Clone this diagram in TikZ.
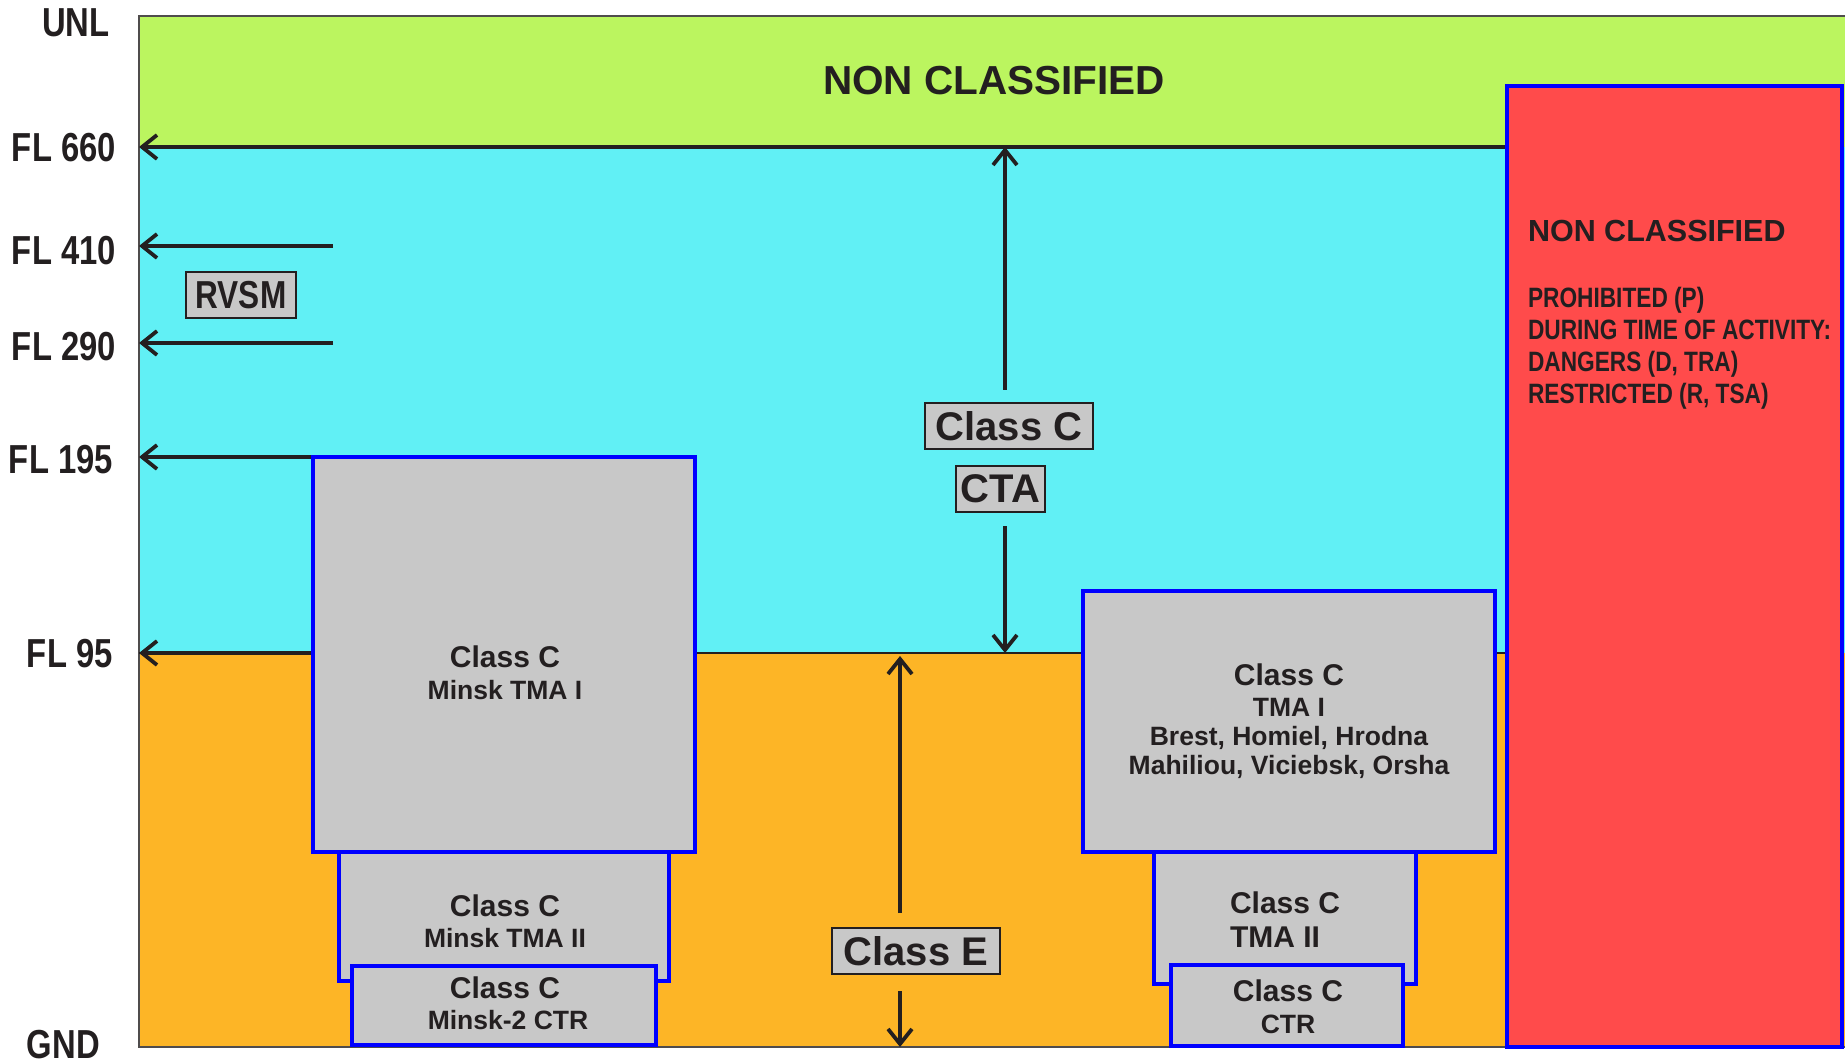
\documentclass[tikz,border=0pt]{standalone}
\usepackage{fontspec}
\setmainfont{Liberation Sans}
\newfontfamily\narrowfont[FakeStretch=0.81]{Liberation Sans}
\usetikzlibrary{arrows.meta}
\definecolor{bandgreen}{RGB}{187,245,95}
\definecolor{bandcyan}{RGB}{97,240,245}
\definecolor{bandorange}{RGB}{253,181,38}
\definecolor{zonered}{RGB}{255,75,75}
\definecolor{boxgray}{RGB}{200,200,200}
\definecolor{boxblue}{RGB}{0,0,255}
\definecolor{txtdark}{RGB}{35,31,32}
\begin{document}
\begin{tikzpicture}[x=1pt,y=-1pt,
  every node/.style={inner sep=0pt,outer sep=0pt,text=txtdark},
  arr/.style={draw=txtdark,line width=3.8pt,-{Straight Barb[length=15pt,width=24pt]}},
  zonebox/.style={fill=boxgray,draw=boxblue,line width=4pt},
  lbox/.style={fill=boxgray,draw=txtdark,line width=1.4pt,inner sep=0pt},
  fl/.style={anchor=base west,font=\narrowfont\bfseries\fontsize{40.5}{40.5}\selectfont},
  bigtxt/.style={font=\bfseries\fontsize{40}{40}\selectfont},
  clsC/.style={anchor=base,font=\bfseries\fontsize{30}{30}\selectfont},
  subtxt/.style={anchor=base,font=\bfseries\fontsize{26.5}{26.5}\selectfont},
  redtxt/.style={anchor=base west,font=\narrowfont\bfseries\fontsize{28}{28}\selectfont}]
\useasboundingbox (0,0) rectangle (1845,1064);
% bands
\fill[bandgreen] (139,16) rectangle (1845,147);
\fill[bandcyan] (139,147) rectangle (1845,653);
\fill[bandorange] (139,653) rectangle (1845,1047);
\draw[txtdark!80,line width=1.3pt] (1845,16) -- (139,16) -- (139,1047) -- (1845,1047);
\draw[txtdark,line width=1.8pt] (139,653) -- (1505,653);
% coordinates
\coordinate (l660) at (139,147);
\coordinate (r660) at (1505,147);
\coordinate (l410) at (139,246);
\coordinate (r410) at (333,246);
\coordinate (l290) at (139,343);
\coordinate (r290) at (333,343);
\coordinate (l195) at (139,457);
\coordinate (r195) at (313,457);
\coordinate (l95) at (139,653);
\coordinate (r95) at (313,653);
\coordinate (ctaTop) at (1005,147);
\coordinate (ctaUp) at (1005,390);
\coordinate (ctaLow) at (1005,526);
\coordinate (ctaBot) at (1005,653);
\coordinate (eTop) at (900,656);
\coordinate (eUp) at (900,913);
\coordinate (eLow) at (900,991);
\coordinate (eBot) at (900,1047);
% FL arrows
\draw[arr] (r660) -- (l660);
\draw[arr] (r410) -- (l410);
\draw[arr] (r290) -- (l290);
\draw[arr] (r195) -- (l195);
\draw[arr] (r95) -- (l95);
% vertical arrows
\draw[arr] (ctaUp) -- (ctaTop);
\draw[arr] (ctaLow) -- (ctaBot);
\draw[arr] (eUp) -- (eTop);
\draw[arr] (eLow) -- (eBot);
% left zones
\draw[zonebox] (339,852) rectangle (669,981);
\draw[zonebox] (313,457) rectangle (695,852);
\draw[zonebox] (352,966) rectangle (656,1045);
% right zones
\draw[zonebox] (1154,852) rectangle (1416,984);
\draw[zonebox] (1083,591) rectangle (1495,852);
\draw[zonebox] (1171,965) rectangle (1403,1046);
% red zone
\draw[fill=zonered,draw=boxblue,line width=4pt] (1507,86) rectangle (1842,1047);
% label boxes
\node[lbox,bigtxt,minimum width=168pt,minimum height=46pt] (ctaC) at (1009,426) {Class C};
\node[lbox,bigtxt,minimum width=89pt,minimum height=46pt] (ctaA) at (1000.5,489) {CTA};
\node[lbox,bigtxt,minimum width=168pt,minimum height=46pt] (classE) at (916,951) {Class E};
\node[lbox,minimum width=110pt,minimum height=46pt,font=\narrowfont\bfseries\fontsize{39}{39}\selectfont] (rvsm) at (241,295) {RVSM};
% left labels
\node[fl] (unl) at (42,37) {UNL};
\node[fl] (t660) at (12,162) {FL 660};
\node[fl] (t410) at (12,265) {FL 410};
\node[fl] (t290) at (12,361) {FL 290};
\node[fl] (t195) at (9,473) {FL 195};
\node[fl] (t95) at (27,667) {FL 95};
\node[fl] (gnd) at (27,1058) {GND};
% top text
\node[anchor=base,font=\bfseries\fontsize{40.5}{40.5}\selectfont] (nonc) at (994,95) {NON CLASSIFIED};
% red zone text
\node[anchor=base west,font=\bfseries\fontsize{30.5}{30.5}\selectfont] (rnonc) at (1528,242) {NON CLASSIFIED};
\node[redtxt] (r1) at (1528,308) {PROHIBITED (P)};
\node[redtxt] (r2) at (1528,340) {DURING TIME OF ACTIVITY:};
\node[redtxt] (r3) at (1528,372) {DANGERS (D, TRA)};
\node[redtxt] (r4) at (1528,404) {RESTRICTED (R, TSA)};
% left zone texts
\node[clsC] (m1a) at (505,667) {Class C};
\node[subtxt] (m1b) at (505,699) {Minsk TMA I};
\node[clsC] (m2a) at (505,916) {Class C};
\node[subtxt] (m2b) at (505,947) {Minsk TMA II};
\node[clsC] (m3a) at (505,998) {Class C};
\node[subtxt] (m3b) at (508,1029) {Minsk-2 CTR};
% right zone texts
\node[clsC] (t1a) at (1289,685) {Class C};
\node[subtxt] (t1b) at (1289,716) {TMA I};
\node[subtxt] (t1c) at (1289,745) {Brest, Homiel, Hrodna};
\node[subtxt] (t1d) at (1289,774) {Mahiliou, Viciebsk, Orsha};
\node[clsC,anchor=base west] (t2a) at (1230,913) {Class C};
\node[clsC,anchor=base west] (t2b) at (1230,947) {TMA II};
\node[clsC] (t3a) at (1288,1001) {Class C};
\node[subtxt] (t3b) at (1288,1033) {CTR};
\end{tikzpicture}
\end{document}
